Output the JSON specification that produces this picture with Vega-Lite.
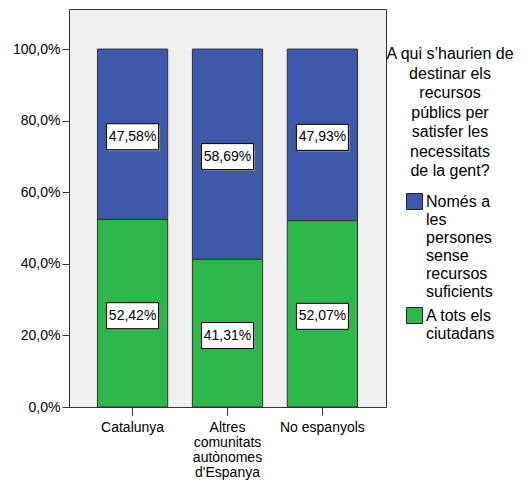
{
  "$schema": "https://vega.github.io/schema/vega-lite/v6.json",
  "width": 317,
  "height": 398,
  "autosize": {"type": "none"},
  "padding": {"left": 69, "top": 9, "right": 145, "bottom": 76},
  "background": "white",
  "config": {
    "view": {"fill": "#f0f0f0", "stroke": "#333333", "strokeWidth": 1},
    "font": "Liberation Sans",
    "locale": {"number": {"decimal": ",", "thousands": ".", "grouping": [3], "currency": ["", " €"]}},
    "axis": {"grid": false, "domain": false, "title": null, "labelColor": "black", "tickColor": "#333333", "labelFont": "Liberation Sans"},
    "axisX": {
      "labelAngle": 0, "labelFontSize": 14, "labelLineHeight": 15, "labelPadding": 5, "tickSize": 8, "labelLimit": 0,
      "labelExpr": "indexof(datum.label, 'Altres') == 0 ? ['Altres', 'comunitats', 'autònomes', \"d'Espanya\"] : datum.label"
    },
    "axisY": {"labelFontSize": 14, "labelPadding": 2, "tickSize": 7}
  },
  "data": {
    "values": [
      {"origen": "Catalunya", "resposta": "A tots els ciutadans", "pct": 0.5242},
      {"origen": "Catalunya", "resposta": "Només a les persones sense recursos suficients", "pct": 0.4758},
      {"origen": "Altres comunitats autònomes d'Espanya", "resposta": "A tots els ciutadans", "pct": 0.4131},
      {"origen": "Altres comunitats autònomes d'Espanya", "resposta": "Només a les persones sense recursos suficients", "pct": 0.5869},
      {"origen": "No espanyols", "resposta": "A tots els ciutadans", "pct": 0.5207},
      {"origen": "No espanyols", "resposta": "Només a les persones sense recursos suficients", "pct": 0.4793}
    ]
  },
  "encoding": {
    "x": {
      "field": "origen", "type": "nominal",
      "sort": ["Catalunya", "Altres comunitats autònomes d'Espanya", "No espanyols"],
      "scale": {"paddingInner": 0.26, "paddingOuter": 0.3}
    },
    "order": {"field": "resposta", "type": "nominal", "sort": "ascending"},
    "detail": {"field": "resposta", "type": "nominal"}
  },
  "layer": [
    {
      "mark": {"type": "bar", "stroke": "#333333", "strokeWidth": 1, "opacity": 1},
      "encoding": {
        "y": {
          "field": "pct", "type": "quantitative", "stack": "zero",
          "scale": {"domain": [0, 1.112], "nice": false},
          "axis": {"values": [0, 0.2, 0.4, 0.6, 0.8, 1.0], "format": ".1%"}
        },
        "color": {
          "field": "resposta", "type": "nominal",
          "scale": {"domain": ["Només a les persones sense recursos suficients", "A tots els ciutadans"], "range": ["#3e58ac", "#2eb84b"]},
          "legend": {
            "orient": "none", "legendX": 317, "legendY": 37,
            "title": ["A qui s’haurien de", "destinar els", "recursos", "públics per", "satisfer les", "necessitats", "de la gent?"],
            "titleAlign": "center", "titleAnchor": "middle", "titleFont": "Liberation Sans", "titleFontSize": 16,
            "titleFontWeight": "normal", "titleLineHeight": 19.5, "titleColor": "black", "titlePadding": 14,
            "labelExpr": "datum.label == 'A tots els ciutadans' ? ['A tots els', 'ciutadans'] : ['Només a', 'les', 'persones', 'sense', 'recursos', 'suficients']",
            "labelFont": "Liberation Sans", "labelFontSize": 16, "labelLineHeight": 19, "labelColor": "black", "labelLimit": 0,
            "labelOffset": 3, "rowPadding": 5,
            "symbolType": "square", "symbolSize": 256, "symbolStrokeColor": "#222222", "symbolStrokeWidth": 1, "symbolOpacity": 1
          }
        }
      }
    },
    {
      "mark": {"type": "point", "shape": "M-1,-0.5H1V0.5H-1Z", "size": 2704, "filled": true, "fill": "#8a8a8a", "opacity": 1, "xOffset": 1.5, "yOffset": 4},
      "encoding": {"y": {"field": "pct", "type": "quantitative", "stack": "zero", "bandPosition": 0.5}}
    },
    {
      "mark": {"type": "point", "shape": "M-1,-0.5H1V0.5H-1Z", "size": 2704, "filled": true, "fill": "white", "stroke": "black", "strokeWidth": 1, "opacity": 1, "yOffset": 2.5},
      "encoding": {"y": {"field": "pct", "type": "quantitative", "stack": "zero", "bandPosition": 0.5}}
    },
    {
      "mark": {"type": "text", "font": "Liberation Sans", "fontSize": 14, "color": "black", "baseline": "middle", "align": "center", "yOffset": 2.5},
      "encoding": {
        "y": {"field": "pct", "type": "quantitative", "stack": "zero", "bandPosition": 0.5},
        "text": {"field": "pct", "type": "quantitative", "format": ".2%"}
      }
    }
  ]
}
